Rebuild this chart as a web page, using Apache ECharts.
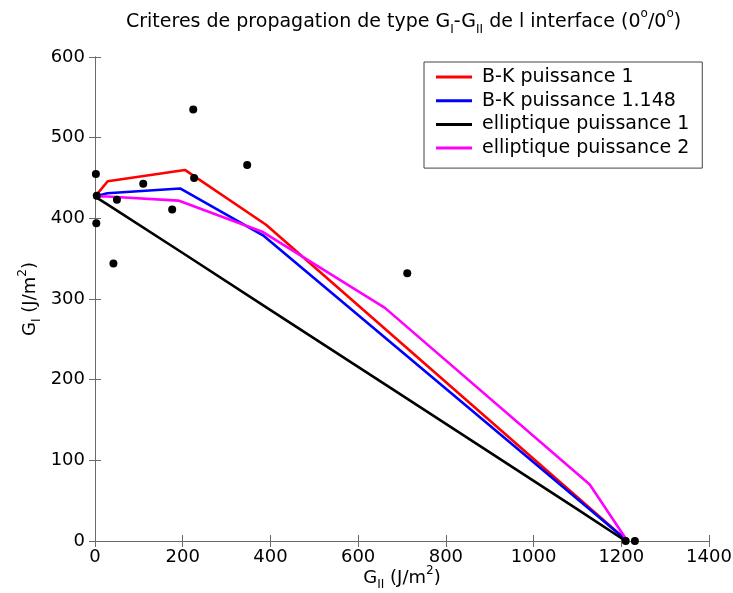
<!DOCTYPE html>
<html>
<head>
<meta charset="utf-8">
<script src="https://cdn.jsdelivr.net/npm/echarts@6/dist/echarts.min.js"></script>
<style>html,body{margin:0;padding:0;background:#fff}#c{width:733px;height:593px}</style>
</head>
<body>
<div id="c"></div>
<script>
// Experimental points
var ptsGII = [2, 4, 3, 42, 50, 110, 176, 226, 224, 347, 712, 1210, 1231];
var ptsGI  = [455, 428, 394, 344, 423, 443, 411, 450, 535, 466, 332, 0, 0];

// Criteria curves
var bk1GII = [0, 29, 205, 390, 1214];
var bk1GI  = [427, 446, 460, 392, 0];
var bk2GII = [0, 28, 194, 383, 1214];
var bk2GI  = [427, 431, 437, 379, 0];
var el1GII = [0, 29, 200, 395, 665, 1095, 1210];
var el1GI  = [427, 417, 357, 288, 193, 41, 0];
var el2GII = [0, 28, 190, 383, 661, 1128, 1214];
var el2GI  = [427, 427, 422, 383, 289, 70, 0];

var xTicks = [0, 200, 400, 600, 800, 1000, 1200, 1400];
var yTicks = [0, 100, 200, 300, 400, 500, 600];

function pairs(xs, ys) { return xs.map(function (x, i) { return [x, ys[i]]; }); }

var FONT = 'DejaVu Sans';
var AX = '#6a6a6a';
var chart = echarts.init(document.getElementById('c'), null, {renderer: 'canvas'});

function lineSeries(name, xs, ys, color) {
  return {
    name: name, type: 'line', data: pairs(xs, ys), symbol: 'none',
    lineStyle: {color: color, width: 2.6}, itemStyle: {color: color},
    animation: false, z: 2
  };
}

var sub = {fontFamily: FONT, fontSize: 12, lineHeight: 12, verticalAlign: 'bottom', color: '#000'};
var sup = {fontFamily: FONT, fontSize: 12, lineHeight: 12, verticalAlign: 'top', color: '#000'};
var plain = function (v) { return String(v); };

chart.setOption({
  animation: false,
  backgroundColor: '#fff',
  title: {
    text: 'Criteres de propagation de type G{s|I}-G{s|II} de l interface (0{p|o}/0{p|o})',
    left: 121, top: 3,
    textStyle: {
      fontFamily: FONT, fontSize: 19, fontWeight: 'normal', color: '#000', lineHeight: 28,
      rich: {s: sub, p: sup}
    }
  },
  grid: {left: 95, right: 24, top: 57, bottom: 52, containLabel: false, outerBoundsMode: 'none'},
  legend: {
    data: ['B-K puissance 1', 'B-K puissance 1.148', 'elliptique puissance 1', 'elliptique puissance 2'],
    orient: 'vertical', left: 424, top: 62,
    icon: 'rect', itemWidth: 36, itemHeight: 3, itemGap: 3.7,
    padding: [5, 13, 10, 12],
    borderColor: '#444', borderWidth: 1, backgroundColor: '#fff',
    textStyle: {fontFamily: FONT, fontSize: 19, color: '#000', lineHeight: 20, padding: [0, 0, 0, 5]}
  },
  xAxis: [{
    type: 'value', min: 0, max: 1400, interval: 200, position: 'bottom',
    name: 'G{s|II} (J/m{p|2})', nameLocation: 'middle', nameGap: 24, nameMoveOverlap: false,
    nameTextStyle: {fontFamily: FONT, fontSize: 18, color: '#000', lineHeight: 26, rich: {s: sub, p: sup}},
    axisLine: {show: true, lineStyle: {color: AX, width: 1}},
    axisTick: {show: true, inside: true, length: 6, lineStyle: {color: AX}},
    axisLabel: {fontFamily: FONT, fontSize: 18, color: '#000', margin: 7, formatter: plain},
    splitLine: {show: false}
  }, {
    type: 'value', min: 0, max: 1400, interval: 200, position: 'top',
    axisLine: {show: true, lineStyle: {color: AX, width: 1}},
    axisTick: {show: true, inside: true, length: 6, lineStyle: {color: AX}},
    axisLabel: {show: false}, splitLine: {show: false}
  }],
  yAxis: [{
    type: 'value', min: 0, max: 600, interval: 100, position: 'left',
    name: 'G{s|I} (J/m{p|2})', nameLocation: 'middle', nameGap: 52, nameRotate: 90, nameMoveOverlap: false,
    nameTextStyle: {fontFamily: FONT, fontSize: 18, color: '#000', lineHeight: 26, rich: {s: sub, p: sup}},
    axisLine: {show: true, lineStyle: {color: AX, width: 1}},
    axisTick: {show: true, inside: true, length: 6, lineStyle: {color: AX}},
    axisLabel: {fontFamily: FONT, fontSize: 18, color: '#000', margin: 10, formatter: plain},
    splitLine: {show: false}
  }, {
    type: 'value', min: 0, max: 600, interval: 100, position: 'right',
    axisLine: {show: true, lineStyle: {color: AX, width: 1}},
    axisTick: {show: true, inside: true, length: 6, lineStyle: {color: AX}},
    axisLabel: {show: false}, splitLine: {show: false}
  }],
  series: [
    lineSeries('B-K puissance 1', bk1GII, bk1GI, '#ff0000'),
    lineSeries('B-K puissance 1.148', bk2GII, bk2GI, '#0000ff'),
    lineSeries('elliptique puissance 1', el1GII, el1GI, '#000000'),
    lineSeries('elliptique puissance 2', el2GII, el2GI, '#ff00ff'),
    {
      name: 'essais', type: 'scatter', data: pairs(ptsGII, ptsGI),
      symbol: 'circle', symbolSize: 8, itemStyle: {color: '#000', opacity: 1}, z: 3,
      animation: false
    }
  ]
});
</script>
</body>
</html>
